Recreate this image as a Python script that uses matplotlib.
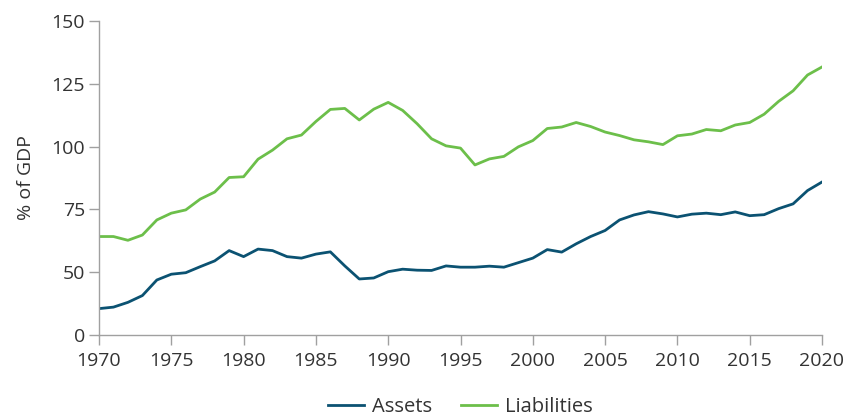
import numpy as np
import matplotlib
matplotlib.use("Agg")
import matplotlib.pyplot as plt

plt.rcParams['font.family'] = ['Open Sans', 'DejaVu Sans']

years = list(range(1970, 2021))
assets = [21.0, 22.2, 26.0, 31.4, 43.8, 48.4, 49.6, 52.2, 54.5, 58.6,
          56.2, 59.2, 58.6, 56.2, 55.6, 57.2, 58.1, 52.5, 44.6, 45.4,
          50.2, 51.2, 50.8, 50.7, 52.5, 52.0, 52.0, 52.4, 52.0, 53.8,
          55.6, 59.0, 58.0, 61.3, 64.2, 66.6, 70.8, 72.8, 74.1, 73.2,
          72.0, 73.1, 73.5, 72.9, 74.0, 72.5, 72.9, 75.3, 77.2, 82.5,
          85.9]
liabilities = [64.2, 64.2, 62.7, 64.8, 70.8, 73.5, 74.8, 79.1, 81.9, 87.7,
               88.0, 95.0, 98.6, 103.1, 104.6, 110.0, 114.8, 115.2, 110.6, 114.9,
               117.6, 114.4, 109.1, 103.1, 100.3, 99.4, 92.7, 95.1, 96.1, 99.9,
               102.4, 107.2, 107.8, 109.6, 108.0, 105.8, 104.4, 102.7, 101.9, 100.8,
               104.3, 105.0, 106.8, 106.3, 108.6, 109.6, 112.9, 118.0, 122.2, 128.5,
               131.7]
yticks = [0, 50, 75, 100, 125, 150]
xticks = list(range(1970, 2021, 5))


def fwd(v):
    v = np.asarray(v, dtype=float)
    return np.where(v < 50, 25 + v / 2.0, v)


def inv(u):
    u = np.asarray(u, dtype=float)
    return np.where(u < 50, (u - 25) * 2.0, u)


fig = plt.figure(figsize=(8.46, 4.16), dpi=100)
ax = fig.add_axes([99/846, 1-335/416, (822-99)/846, (335-21)/416])
ax.set_yscale('function', functions=(fwd, inv))

ax.plot(years, assets, color='#0b5272', lw=2.0, label='Assets', solid_joinstyle='round')
ax.plot(years, liabilities, color='#6cbf4a', lw=2.0, label='Liabilities', solid_joinstyle='round')

ax.set_xlim(1970, 2020)
ax.set_ylim(0, 150)
ax.set_yticks(yticks)
ax.set_yticklabels([str(t) for t in yticks])
ax.set_xticks(xticks)
ax.set_xticklabels([str(t) for t in xticks])
ax.minorticks_off()

for s in ['top', 'right']:
    ax.spines[s].set_visible(False)
for s in ['left', 'bottom']:
    ax.spines[s].set_color('#a0a0a0')
    ax.spines[s].set_linewidth(1.0)
ax.tick_params(axis='both', colors='#a0a0a0', length=7, width=1.0,
               labelsize=14, labelcolor='#333333')
ax.tick_params(axis='x', pad=5)
ax.tick_params(axis='y', pad=3)

ax.set_ylabel('% of GDP', fontsize=14, color='#333333', labelpad=12)

leg = ax.legend(loc='center', bbox_to_anchor=(0.5, -0.228), ncol=2, frameon=False,
                fontsize=14.5, handlelength=1.8, handletextpad=0.4, columnspacing=1.4,
                labelcolor='#333333')

fig.savefig('out.png', dpi=100)
